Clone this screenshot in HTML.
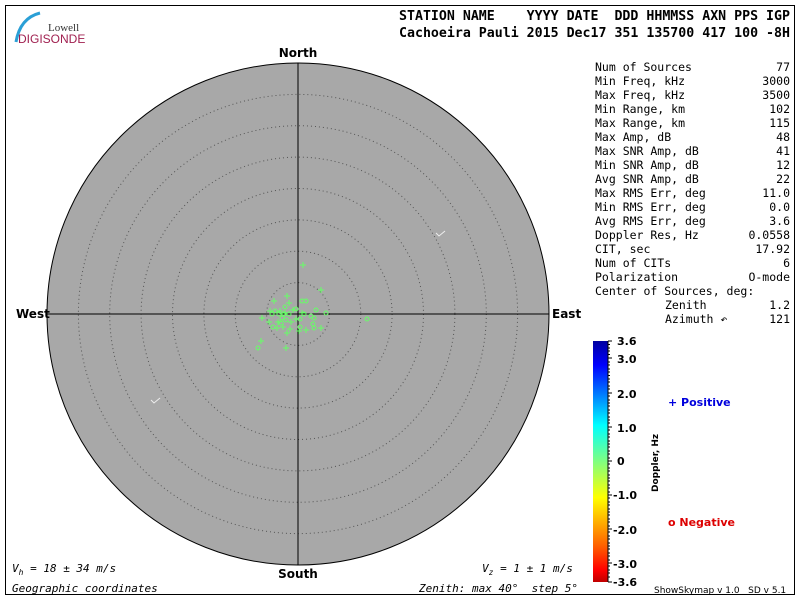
<!DOCTYPE html>
<html><head><style>
body{margin:0;width:800px;height:600px;background:#fff;overflow:hidden;font-family:"DejaVu Sans Mono","Liberation Mono",monospace}
text{white-space:pre}
</style></head><body>
<svg width="800" height="600" xmlns="http://www.w3.org/2000/svg" font-family="DejaVu Sans Mono, Liberation Mono, monospace" xml:space="preserve">
<defs>
<linearGradient id="g" x1="0" y1="0" x2="0" y2="1">
<stop offset="0" stop-color="#0000a0"/><stop offset="0.1" stop-color="#0000ff"/>
<stop offset="0.35" stop-color="#00ffff"/><stop offset="0.5" stop-color="#80ff80"/>
<stop offset="0.65" stop-color="#ffff00"/><stop offset="0.85" stop-color="#ff6000"/>
<stop offset="0.95" stop-color="#ff0000"/><stop offset="1" stop-color="#c00000"/>
</linearGradient>
</defs>
<rect x="5.5" y="5.5" width="789" height="589" fill="none" stroke="#000"/>
<path d="M40 13 Q20 18 16 42" stroke="#2a9fd6" stroke-width="3" fill="none"/>
<text x="48" y="31" font-family="Liberation Serif,serif" font-size="11" fill="#333">Lowell</text>
<text x="18" y="43" font-family="Liberation Sans,sans-serif" font-size="12" fill="#a02050">DIGISONDE</text>
<g font-size="13" font-weight="bold">
<text x="399" y="20" textLength="391" lengthAdjust="spacingAndGlyphs">STATION NAME    YYYY DATE  DDD HHMMSS AXN PPS IGP</text>
<text x="399" y="37" textLength="391" lengthAdjust="spacingAndGlyphs">Cachoeira Pauli 2015 Dec17 351 135700 417 100 -8H</text>
</g>
<circle cx="298" cy="314" r="251" fill="#a8a8a8" stroke="#000"/>
<g fill="none" stroke="#555" stroke-dasharray="1,3">
<circle cx="298" cy="314" r="31.4"/><circle cx="298" cy="314" r="62.8"/><circle cx="298" cy="314" r="94.1"/>
<circle cx="298" cy="314" r="125.5"/><circle cx="298" cy="314" r="156.9"/><circle cx="298" cy="314" r="188.3"/>
<circle cx="298" cy="314" r="219.6"/>
</g>
<line x1="298" y1="63" x2="298" y2="565" stroke="#000"/>
<line x1="47" y1="314" x2="549" y2="314" stroke="#000"/>
<g font-size="12" font-weight="bold" font-family="DejaVu Sans,sans-serif">
<text x="298" y="57" text-anchor="middle">North</text>
<text x="298" y="578" text-anchor="middle">South</text>
<text x="16" y="318">West</text>
<text x="552" y="318">East</text>
</g>
<path d="M436 233 l3 3 l6 -5 M151 400 l3 3 l6 -5" stroke="#eee" fill="none"/>
<g stroke="#66ff66" stroke-width="1" fill="none">
<path d="M303 262v6M300 265h6 M321 287v6M318 290h6 M287 293v6M284 296h6 M274 298v6M271 301h6 M289 300v6M286 303h6 M262 315v6M259 318h6 M269 319v6M266 322h6 M261 338v6M258 341h6 M286 345v6M283 348h6 M321 325v6M318 328h6 M287 330v6M284 333h6 M299 328v6M296 331h6 M306 327v6M303 330h6 M280 308v6M277 311h6 M285 310v6M282 313h6 M293 307v6M290 310h6 M278 319v6M275 322h6 M291 319v6M288 322h6 M283 324v6M280 327h6 M296 316v6M293 319h6 M302 310v6M299 313h6 M270 308v6M267 311h6 M277 325v6M274 328h6 M290 326v6M287 329h6"/>
<circle cx="302" cy="301" r="2"/><circle cx="306" cy="301" r="2"/><circle cx="316" cy="310" r="2"/>
<circle cx="326" cy="313" r="2"/><circle cx="367" cy="319" r="2"/><circle cx="258" cy="348" r="2"/>
<circle cx="275" cy="311" r="2"/><circle cx="273" cy="327" r="2"/><circle cx="314" cy="318" r="2"/>
<circle cx="313" cy="324" r="2"/><circle cx="314" cy="328" r="2"/><circle cx="284" cy="314" r="2"/>
<circle cx="282" cy="318" r="2"/><circle cx="286" cy="320" r="2"/><circle cx="281" cy="323" r="2"/>
<circle cx="300" cy="319" r="2"/><circle cx="304" cy="314" r="2"/><circle cx="311" cy="316" r="2"/>
<circle cx="285" cy="307" r="2"/><circle cx="289" cy="314" r="2"/><circle cx="296" cy="309" r="2"/>
<circle cx="272" cy="314" r="2"/><circle cx="279" cy="314" r="2"/><circle cx="300" cy="327" r="2"/>
</g>
<g font-size="11.5">
<text x="595" y="71">Num of Sources</text><text x="790" y="71" text-anchor="end">77</text>
<text x="595" y="85">Min Freq, kHz</text><text x="790" y="85" text-anchor="end">3000</text>
<text x="595" y="99">Max Freq, kHz</text><text x="790" y="99" text-anchor="end">3500</text>
<text x="595" y="113">Min Range, km</text><text x="790" y="113" text-anchor="end">102</text>
<text x="595" y="127">Max Range, km</text><text x="790" y="127" text-anchor="end">115</text>
<text x="595" y="141">Max Amp, dB</text><text x="790" y="141" text-anchor="end">48</text>
<text x="595" y="155">Max SNR Amp, dB</text><text x="790" y="155" text-anchor="end">41</text>
<text x="595" y="169">Min SNR Amp, dB</text><text x="790" y="169" text-anchor="end">12</text>
<text x="595" y="183">Avg SNR Amp, dB</text><text x="790" y="183" text-anchor="end">22</text>
<text x="595" y="197">Max RMS Err, deg</text><text x="790" y="197" text-anchor="end">11.0</text>
<text x="595" y="211">Min RMS Err, deg</text><text x="790" y="211" text-anchor="end">0.0</text>
<text x="595" y="225">Avg RMS Err, deg</text><text x="790" y="225" text-anchor="end">3.6</text>
<text x="595" y="239">Doppler Res, Hz</text><text x="790" y="239" text-anchor="end">0.0558</text>
<text x="595" y="253">CIT, sec</text><text x="790" y="253" text-anchor="end">17.92</text>
<text x="595" y="267">Num of CITs</text><text x="790" y="267" text-anchor="end">6</text>
<text x="595" y="281">Polarization</text><text x="790" y="281" text-anchor="end">O-mode</text>
<text x="595" y="295">Center of Sources, deg:</text>
<text x="665" y="309">Zenith</text><text x="790" y="309" text-anchor="end">1.2</text>
<text x="665" y="323">Azimuth ↶</text><text x="790" y="323" text-anchor="end">121</text>
</g>
<rect x="593" y="341" width="15" height="241" fill="url(#g)"/>
<g stroke="#000"><line x1="608" y1="341" x2="608" y2="582"/>
<path d="M608 341h4M608 358h4M608 393h4M608 427h4M608 461h4M608 495h4M608 529h4M608 563h4M608 582h4"/>
<path d="M608 344.5h2M608 348h2M608 351h2M608 354.5h2M608 362h2M608 365h2M608 369h2M608 372h2M608 375.5h2M608 379h2M608 382h2M608 386h2M608 389h2M608 396h2M608 400h2M608 403h2M608 406h2M608 410h2M608 413h2M608 417h2M608 420h2M608 423h2M608 430h2M608 434h2M608 437h2M608 441h2M608 444h2M608 447h2M608 451h2M608 454h2M608 458h2M608 464h2M608 468h2M608 471h2M608 475h2M608 478h2M608 481h2M608 485h2M608 488h2M608 492h2M608 498h2M608 502h2M608 505h2M608 509h2M608 512h2M608 515h2M608 519h2M608 522h2M608 526h2M608 532h2M608 536h2M608 539h2M608 543h2M608 546h2M608 549h2M608 553h2M608 556h2M608 560h2M608 566h2M608 570h2M608 573h2M608 577h2"/></g>
<g font-size="11" font-weight="bold" font-family="DejaVu Sans,sans-serif">
<text x="617" y="345">3.6</text><text x="617" y="363">3.0</text><text x="617" y="398">2.0</text>
<text x="617" y="432">1.0</text><text x="617" y="465">0</text><text x="613" y="499">-1.0</text>
<text x="613" y="534">-2.0</text><text x="613" y="568">-3.0</text><text x="613" y="586">-3.6</text>
<text transform="translate(658,492) rotate(-90)" font-size="9">Doppler, Hz</text>
<text x="668" y="406" fill="#0000dd">+ Positive</text>
<text x="668" y="526" fill="#dd0000">ᴏ Negative</text>
</g>
<g font-size="11" font-style="italic">
<text x="12" y="572">V<tspan font-size="8" dy="3">h</tspan><tspan dy="-3"> = 18 ± 34 m/s</tspan></text>
<text x="482" y="572">V<tspan font-size="8" dy="3">z</tspan><tspan dy="-3"> = 1 ± 1 m/s</tspan></text>
<text x="12" y="592">Geographic coordinates</text>
<text x="419" y="592">Zenith: max 40°  step 5°</text>
</g>
<text x="654" y="593" font-size="9" font-family="DejaVu Sans,sans-serif">ShowSkymap v 1.0   SD v 5.1</text>
</svg>
</body></html>
